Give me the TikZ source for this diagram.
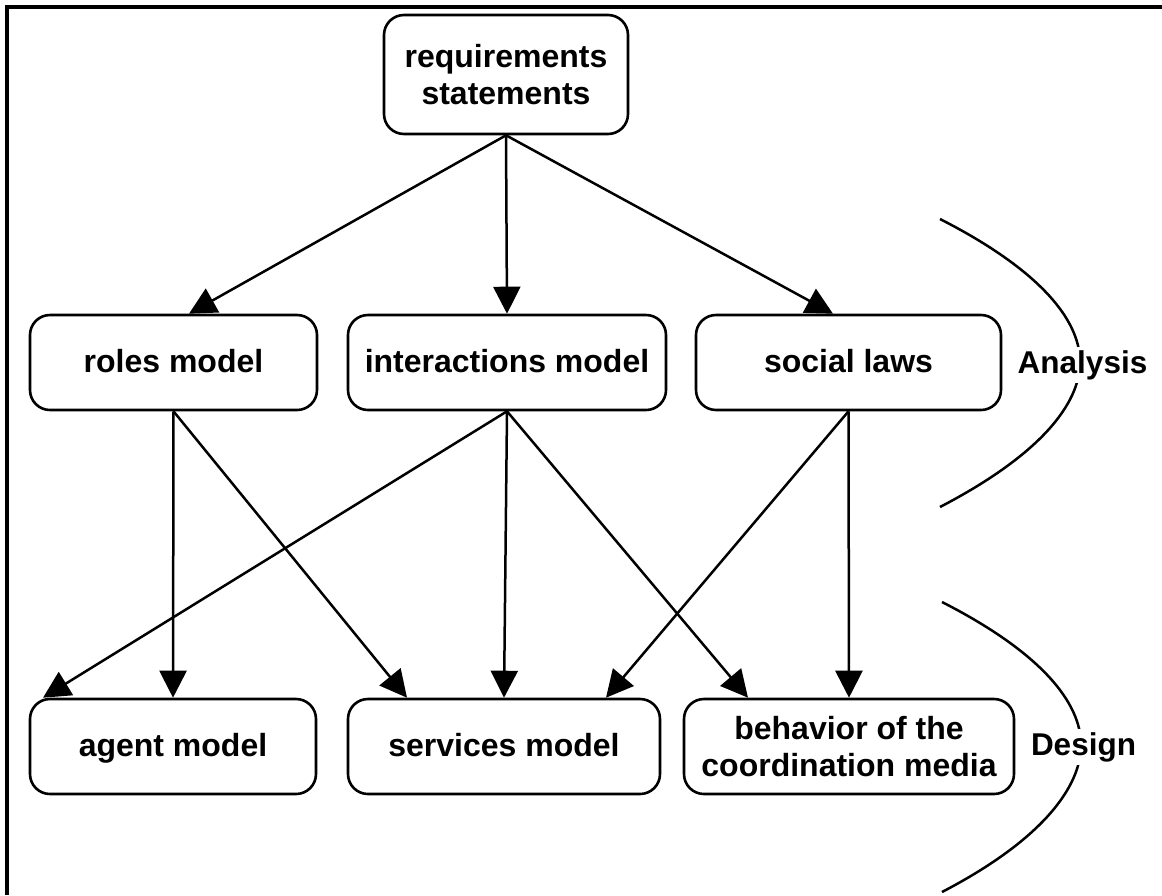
\documentclass[tikz,border=0pt]{standalone}
\usepackage{fontspec}
\setmainfont{Liberation Sans}
\usetikzlibrary{arrows.meta,calc}
\begin{document}
\begin{tikzpicture}[x=1pt,y=-1pt,
  box/.style={draw, line width=2.6pt, rounded corners=20pt, minimum height=95pt,
    inner sep=0pt, align=center, font=\fontsize{32}{37.5}\selectfont\bfseries},
  oneline/.style={text height=23pt, text depth=4pt},
  link/.style={line width=2.5pt, -{Triangle[length=27pt,width=27pt]}},
  phase/.style={line width=2.5pt},
  phaselabel/.style={fill=white, inner sep=3pt, anchor=base,
    font=\fontsize{31.5}{37.5}\selectfont\bfseries}]
\useasboundingbox (0,0) rectangle (1162,895);
% frame
\draw[line width=4pt] (7,895) -- (7,7) -- (1162,7);
% nodes
\node[box, minimum width=244pt, minimum height=119pt] (req) at (506,74.5) {requirements\\statements};
\node[box, oneline, minimum width=287pt] (roles) at (173.5,362.5) {roles model};
\node[box, oneline, minimum width=318pt] (inter) at (507,362.5) {interactions model};
\node[box, oneline, minimum width=305pt] (social) at (848.5,362.5) {social laws};
\node[box, oneline, minimum width=286pt] (agent) at (173,746.5) {agent model};
\node[box, oneline, minimum width=312pt] (serv) at (504,746.5) {services model};
\node[box, minimum width=330pt] (behav) at (849,746.5) {behavior of the\\coordination media};
% connectors
\draw[link] (req.south) -- ([xshift=15.5pt]roles.north);
\draw[link] (req.south) -- (inter.north);
\draw[link] (req.south) -- ([xshift=-15.5pt]social.north);
\draw[link] (roles.south) -- (agent.north);
\draw[link] (roles.south) -- ([xshift=-97pt]serv.north);
\draw[link] (inter.south) -- ([xshift=-130pt]agent.north);
\draw[link] (inter.south) -- (serv.north);
\draw[link] (inter.south) -- ([xshift=-101pt]behav.north);
\draw[link] (social.south) -- ([xshift=102pt]serv.north);
\draw[link] (social.south) -- (behav.north);
% phase arcs
\draw[phase] (940,219) .. controls (1040,270) and (1080,320) .. (1080,362)
  .. controls (1080,404) and (1040,455) .. (940,507);
\draw[phase] (942,602) .. controls (1042,653) and (1081,703) .. (1081,745)
  .. controls (1081,787) and (1042,840) .. (942,892);
\node[phaselabel] (analysis) at (1082.5,373) {Analysis};
\node[phaselabel] (design) at (1083.5,755) {Design};
\end{tikzpicture}
\end{document}
